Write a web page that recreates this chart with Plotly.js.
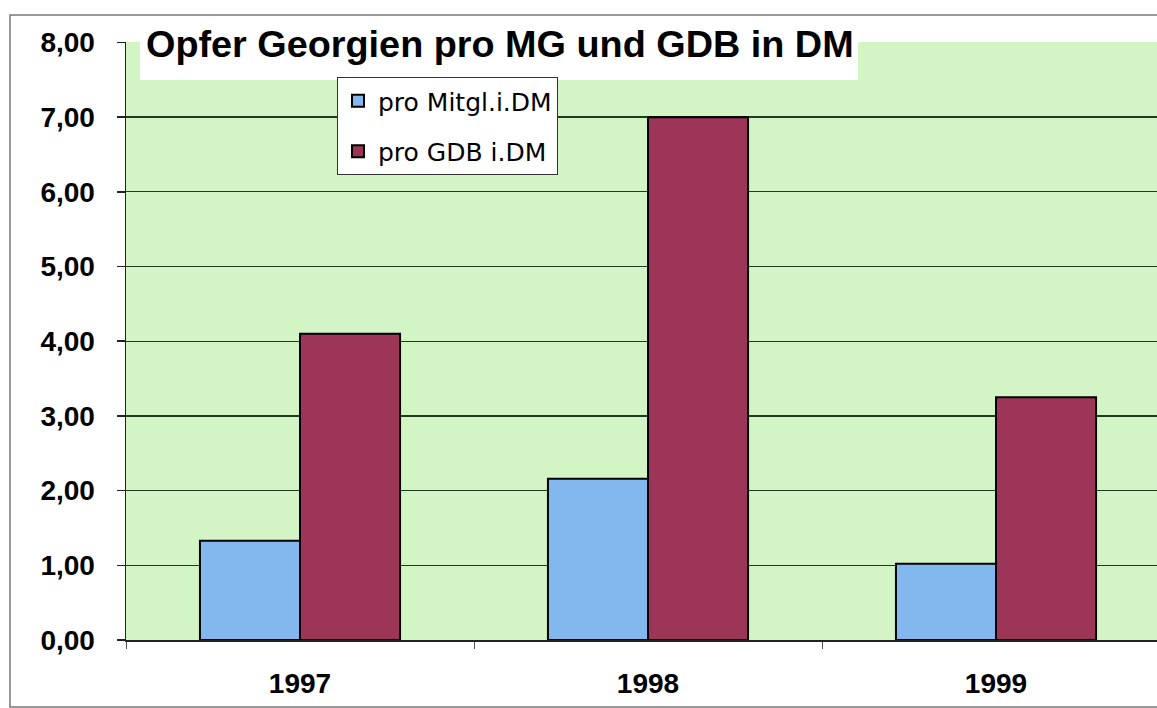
<!DOCTYPE html>
<html>
<head>
<meta charset="utf-8">
<script src="https://cdn.plot.ly/plotly-3.0.1.min.js"></script>
<style>
html,body{margin:0;padding:0;background:#fff;}
#chart{width:1157px;height:708px;}
</style>
</head>
<body>
<div id="chart"></div>
<script>
const categories = ["1997", "1998", "1999"];
const proMitglied = [1.33, 2.16, 1.02];
const proGDB = [4.10, 7.00, 3.25];
const seriesNames = ["pro Mitgl.i.DM", "pro GDB i.DM"];
const yTickVals = [0, 1, 2, 3, 4, 5, 6, 7, 8];
const yTickText = ["0,00", "1,00", "2,00", "3,00", "4,00", "5,00", "6,00", "7,00", "8,00"];
const chartTitle = "Opfer Georgien pro MG und GDB in DM";

const W = 1157, H = 708;
const L = 126, T = 42, B = 68;
const plotW = W - L, plotH = H - T - B;
const px = x => (x - L) / plotW;
const py = y => (H - B - y) / plotH;
const FONT = "Liberation Sans, Arial, sans-serif";

const traces = [
  {type: "bar", x: categories, y: proMitglied, name: seriesNames[0], legendgroup: "a",
   marker: {color: "#82b8ee", line: {color: "#000", width: 2}}},
  {type: "bar", x: categories, y: proGDB, name: seriesNames[1], legendgroup: "b",
   marker: {color: "#9c3558", line: {color: "#000", width: 2}}}
];

const layout = {
  width: W, height: H,
  margin: {l: L, r: 0, t: T, b: B},
  paper_bgcolor: "#fff",
  plot_bgcolor: "#d3f5c6",
  barmode: "group",
  bargap: 0.425,
  bargroupgap: 0,
  font: {family: FONT, color: "#000"},
  title: {text: "<b>" + chartTitle + "</b>", x: px(146), xanchor: "left", xref: "paper",
          y: 1 - 44 / H, yanchor: "middle", yref: "container",
          font: {size: 37.8, color: "#000", family: FONT}},
  xaxis: {
    type: "category", range: [-0.5, -0.5 + plotW / 348],
    tickson: "boundaries", ticks: "outside", ticklen: 7, tickcolor: "#555", tickwidth: 1,
    showgrid: false, showline: true, linecolor: "#222", linewidth: 1.5,
    tickfont: {size: 28, color: "#000", family: FONT, weight: "bold"},
    ticklabelstandoff: 18
  },
  yaxis: {
    range: [0, 8.006], tickvals: yTickVals, ticktext: yTickText,
    ticks: "outside", ticklen: 8, tickcolor: "#222", tickwidth: 1.5,
    showgrid: true, gridcolor: "#1f3a1f", gridwidth: 1.3,
    showline: true, linecolor: "#222", linewidth: 1.5, zeroline: false,
    tickfont: {size: 28, color: "#000", family: FONT, weight: "bold"},
    ticklabelstandoff: 16
  },
  legend: {
    x: px(337), y: py(77), xanchor: "left", yanchor: "top",
    bgcolor: "#fff", bordercolor: "#333", borderwidth: 1,
    font: {size: 25, color: "#000", family: "DejaVu Sans, sans-serif"},
    traceorder: "grouped", tracegroupgap: 15, itemwidth: 30
  },
  shapes: [
    {type: "rect", xref: "paper", yref: "paper", x0: px(140), x1: px(858), y0: py(80), y1: 1.01,
     fillcolor: "#fff", line: {width: 0}, layer: "above"},
    {type: "rect", xref: "paper", yref: "paper", x0: px(10), x1: px(1170), y0: py(707), y1: py(15),
     fillcolor: "rgba(0,0,0,0)", line: {color: "#777", width: 1.5}, layer: "above"}
  ],
  showlegend: true
};

Plotly.newPlot("chart", traces, layout, {displayModeBar: false, staticPlot: true});
</script>
</body>
</html>
